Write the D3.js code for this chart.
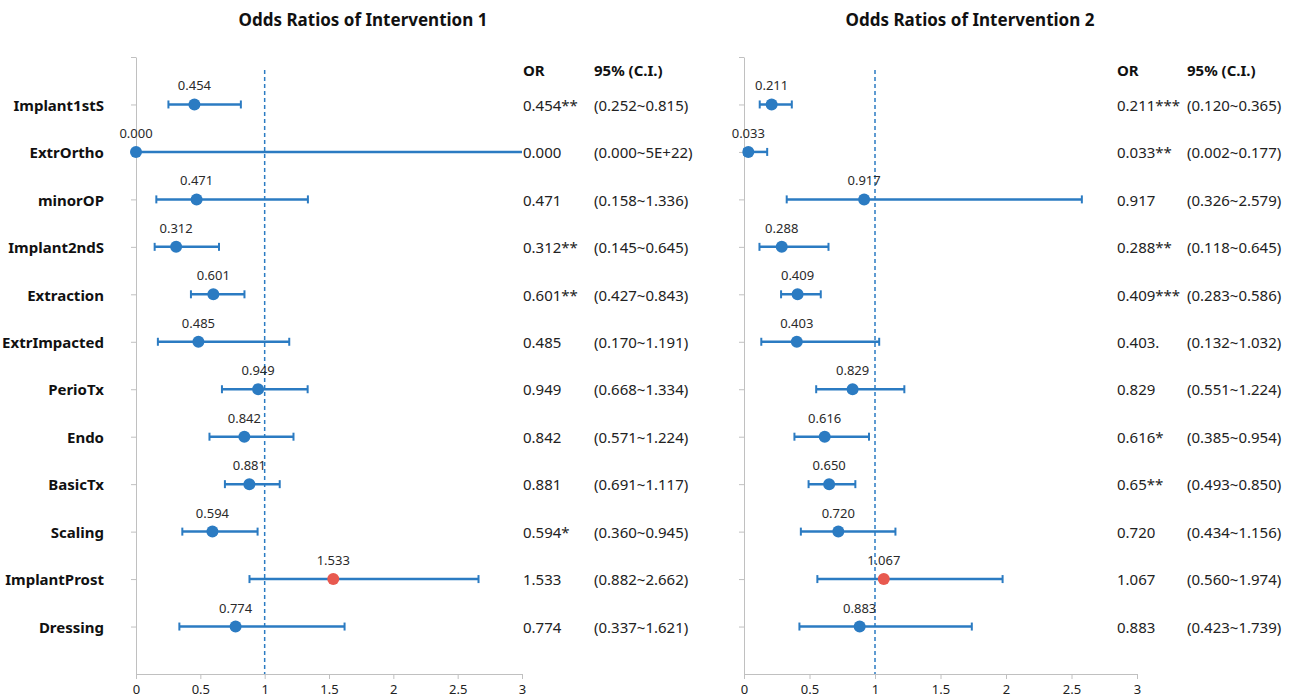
<!DOCTYPE html>
<html>
<head>
<meta charset="utf-8">
<script src="https://cdn.jsdelivr.net/npm/d3@7"></script>
<style>
  body { margin: 0; background: #fff; }
  svg { font-family: "Noto Sans", "Open Sans", sans-serif; }
</style>
</head>
<body>
<svg id="chart" width="1294" height="697"></svg>
<script>
// categories, top to bottom
const categories = ["Implant1stS", "ExtrOrtho", "minorOP", "Implant2ndS", "Extraction", "ExtrImpacted",
    "PerioTx", "Endo", "BasicTx", "Scaling", "ImplantProst", "Dressing"];

// Intervention 1
const or1 = [0.454, 0.000, 0.471, 0.312, 0.601, 0.485, 0.949, 0.842, 0.881, 0.594, 1.533, 0.774];
const lo1 = [0.252, 0.000, 0.158, 0.145, 0.427, 0.170, 0.668, 0.571, 0.691, 0.360, 0.882, 0.337];
const hi1 = [0.815, 5e22, 1.336, 0.645, 0.843, 1.191, 1.334, 1.224, 1.117, 0.945, 2.662, 1.621];
const orText1 = ["0.454**", "0.000", "0.471", "0.312**", "0.601**", "0.485", "0.949", "0.842", "0.881", "0.594*", "1.533", "0.774"];
const ciText1 = ["(0.252~0.815)", "(0.000~5E+22)", "(0.158~1.336)", "(0.145~0.645)", "(0.427~0.843)", "(0.170~1.191)",
    "(0.668~1.334)", "(0.571~1.224)", "(0.691~1.117)", "(0.360~0.945)", "(0.882~2.662)", "(0.337~1.621)"];

// Intervention 2
const or2 = [0.211, 0.033, 0.917, 0.288, 0.409, 0.403, 0.829, 0.616, 0.650, 0.720, 1.067, 0.883];
const lo2 = [0.120, 0.002, 0.326, 0.118, 0.283, 0.132, 0.551, 0.385, 0.493, 0.434, 0.560, 0.423];
const hi2 = [0.365, 0.177, 2.579, 0.645, 0.586, 1.032, 1.224, 0.954, 0.850, 1.156, 1.974, 1.739];
const orText2 = ["0.211***", "0.033**", "0.917", "0.288**", "0.409***", "0.403.", "0.829", "0.616*", "0.65**", "0.720", "1.067", "0.883"];
const ciText2 = ["(0.120~0.365)", "(0.002~0.177)", "(0.326~2.579)", "(0.118~0.645)", "(0.283~0.586)", "(0.132~1.032)",
    "(0.551~1.224)", "(0.385~0.954)", "(0.493~0.850)", "(0.434~1.156)", "(0.560~1.974)", "(0.423~1.739)"];

const highlight = "ImplantProst";
const xTicks = [0, 0.5, 1, 1.5, 2, 2.5, 3];

const blue = "#2b7bc2";
const red = "#e8594f";

const svg = d3.select("#chart");

function drawPanel(cfg) {
    const g = svg.append("g");
    const rows = categories.map((c, i) => ({
        cat: c, or: cfg.or[i], lo: cfg.lo[i], hi: cfg.hi[i], orText: cfg.orText[i], ciText: cfg.ciText[i], pos: 12 - i
    }));

    const x = d3.scaleLinear().domain([0, 3]).range([cfg.left, cfg.right]);
    const y = d3.scaleLinear().domain([0, 13]).range([674, 57]);

    g.append("text")
        .attr("x", cfg.titleX)
        .attr("y", 26)
        .attr("text-anchor", "middle")
        .attr("font-size", "17px")
        .attr("font-weight", "bold")
        .attr("fill", "#111")
        .text(cfg.title);

    // y axis
    const yAxis = g.append("g")
        .attr("transform", `translate(${cfg.left},0)`)
        .call(d3.axisLeft(y).tickValues(d3.range(1, 14)).tickFormat("").tickSize(5).tickSizeOuter(0));
    yAxis.selectAll("path, line").attr("stroke", "#c0c0c0");

    // x axis
    const xAxis = g.append("g")
        .attr("transform", `translate(0,${y(0)})`)
        .call(d3.axisBottom(x).tickValues(xTicks).tickFormat(d => d).tickSize(5).tickSizeOuter(0).tickPadding(6));
    xAxis.selectAll("path, line").attr("stroke", "#c0c0c0");
    xAxis.selectAll("text").attr("font-size", "13px").attr("fill", "#222").attr("font-family", "Noto Sans, sans-serif");

    if (cfg.showLabels) {
        g.append("g").selectAll("text")
            .data(rows)
            .join("text")
            .attr("x", 104)
            .attr("y", d => y(d.pos) + 1)
            .attr("dy", "0.35em")
            .attr("text-anchor", "end")
            .attr("font-size", "15px")
            .attr("font-weight", "bold")
            .attr("fill", "#111")
            .text(d => d.cat);
    }

    // reference line at OR = 1
    g.append("line")
        .attr("x1", x(1)).attr("x2", x(1))
        .attr("y1", 70).attr("y2", y(0))
        .attr("stroke", blue)
        .attr("stroke-width", 1.5)
        .attr("stroke-dasharray", "4,3");

    const bars = g.append("g").selectAll("g")
        .data(rows)
        .join("g")
        .attr("transform", d => `translate(0,${y(d.pos)})`);

    bars.append("line")
        .attr("x1", d => x(d.lo))
        .attr("x2", d => x(Math.min(d.hi, 3)))
        .attr("stroke", blue)
        .attr("stroke-width", 2.5);

    bars.append("line")
        .attr("x1", d => x(d.lo)).attr("x2", d => x(d.lo))
        .attr("y1", -4).attr("y2", 4)
        .attr("stroke", blue)
        .attr("stroke-width", 2);

    bars.filter(d => d.hi <= 3).append("line")
        .attr("x1", d => x(d.hi)).attr("x2", d => x(d.hi))
        .attr("y1", -4).attr("y2", 4)
        .attr("stroke", blue)
        .attr("stroke-width", 2);

    bars.append("circle")
        .attr("cx", d => x(d.or))
        .attr("r", 6)
        .attr("fill", d => d.cat === highlight ? red : blue);

    bars.append("text")
        .attr("x", d => x(d.or))
        .attr("y", -14)
        .attr("text-anchor", "middle")
        .attr("font-size", "13px")
        .attr("fill", "#2a2a2a")
        .text(d => d.or.toFixed(3));

    // table columns
    g.append("text")
        .attr("x", cfg.orX).attr("y", 71).attr("dy", "0.35em")
        .attr("font-size", "15px").attr("font-weight", "bold").attr("fill", "#111")
        .text("OR");
    g.append("text")
        .attr("x", cfg.ciX).attr("y", 71).attr("dy", "0.35em")
        .attr("font-size", "15px").attr("font-weight", "bold").attr("fill", "#111")
        .text("95% (C.I.)");

    bars.append("text")
        .attr("x", cfg.orX)
        .attr("y", 1)
        .attr("dy", "0.35em")
        .attr("font-size", "15px")
        .attr("fill", "#222")
        .text(d => d.orText);

    bars.append("text")
        .attr("x", cfg.ciX)
        .attr("y", 1)
        .attr("dy", "0.35em")
        .attr("font-size", "15px")
        .attr("fill", "#222")
        .text(d => d.ciText);
}

drawPanel({
    title: "Odds Ratios of Intervention 1", titleX: 363,
    left: 136, right: 522, orX: 523, ciX: 594, showLabels: true,
    or: or1, lo: lo1, hi: hi1, orText: orText1, ciText: ciText1
});

drawPanel({
    title: "Odds Ratios of Intervention 2", titleX: 970,
    left: 744, right: 1137, orX: 1117, ciX: 1187, showLabels: false,
    or: or2, lo: lo2, hi: hi2, orText: orText2, ciText: ciText2
});
</script>
</body>
</html>
